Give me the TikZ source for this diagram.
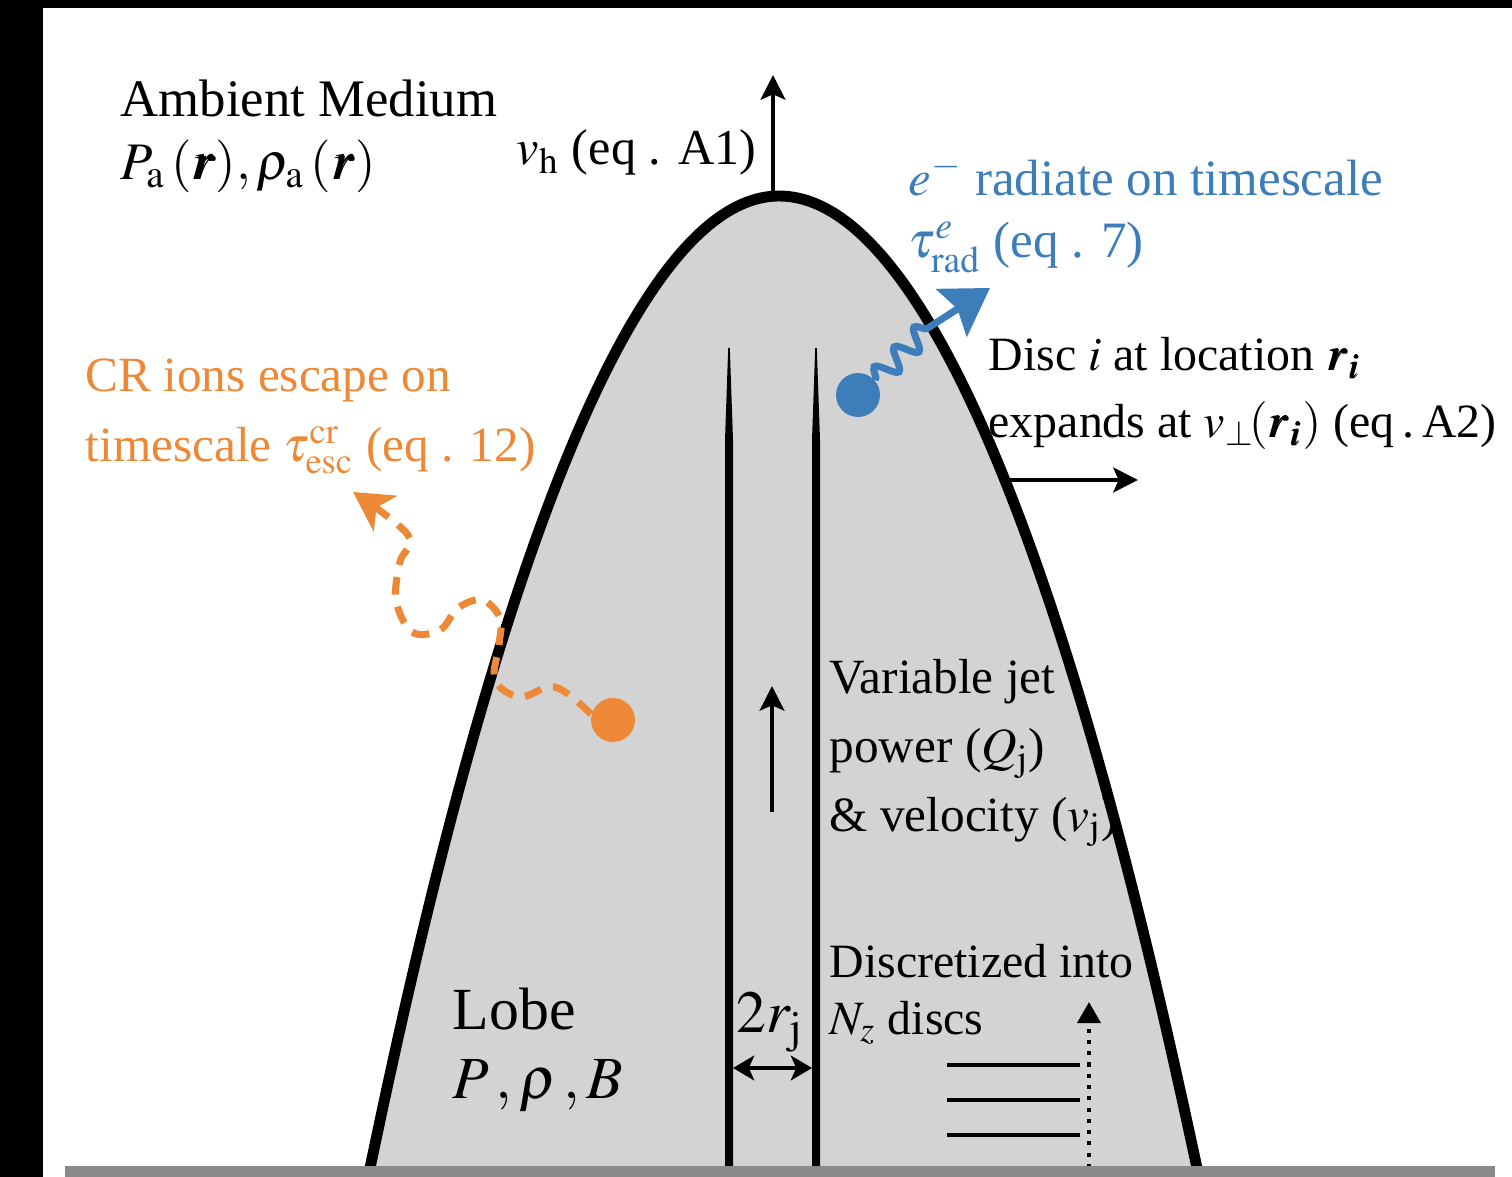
\documentclass[tikz,border=0pt]{standalone}
\usepackage{mathptmx}
\usepackage{bm}
\usepackage{fontspec}
\setmainfont{Liberation Serif}
\usetikzlibrary{positioning, arrows.meta, decorations.pathmorphing}
\definecolor{LobeGrey}{HTML}{D3D3D3}
\definecolor{FloorGrey}{HTML}{8A8A8A}
\definecolor{CROrange}{HTML}{EC8836}
\definecolor{ElecBlue}{HTML}{3C7DBA}

\begin{document}
\begin{tikzpicture}[
  x=0.01cm, y=-0.01cm,
  lbl/.style={inner sep=0pt, align=left, font=\fontsize{14}{19.5}\selectfont},
  lobeline/.style={line width=3.1pt, line join=round},
  vel/.style={-{Stealth[length=7pt, width=7pt, inset=1.5pt]}, line width=1.3pt},
  discline/.style={line width=1.4pt},
  dot/.style={circle, inner sep=0pt, minimum size=12.5pt},
  crpath/.style={CROrange, line width=2pt, dash pattern=on 5pt off 3.5pt, -{Stealth[length=11pt, width=12pt, inset=3pt]}},
  radpath/.style={ElecBlue, line width=2pt, -{Stealth[length=13pt, width=16pt, inset=2pt]}},
]
\useasboundingbox (0,0) rectangle (1512,1177);
\fill[black] (0,0) rectangle (43,1177);
\fill[black] (0,0) rectangle (1512,8);

% lobe
\coordinate (lobeL) at (370,1168);
\coordinate (apex) at (779,196);
\coordinate (lobeR) at (1197,1168);
\fill[LobeGrey] (lobeL) parabola bend (apex) (lobeR) -- cycle;
\draw[lobeline] (lobeL) parabola bend (apex) (lobeR);

% jet walls
\foreach \jx in {729,816}
  \fill ({\jx-0.8},348) -- ({\jx+0.8},348) -- ({\jx+4},440) -- ({\jx+4},1168) -- ({\jx-4},1168) -- ({\jx-4},440) -- cycle;

% velocities
\coordinate (hbase) at (773,194);
\coordinate (htip) at (773,75);
\draw[vel] (hbase) -- (htip);
\coordinate (sbase) at (1010,480);
\coordinate (stip) at (1138,480);
\draw[vel] (sbase) -- (stip);
\coordinate (jbase) at (772,812);
\coordinate (jtip) at (772,686);
\draw[vel, line width=1.1pt] (jbase) -- (jtip);
\coordinate (wl) at (733,1068);
\coordinate (wr) at (812,1068);
\draw[{Stealth[length=6pt, width=7pt, inset=1.5pt]}-{Stealth[length=6pt, width=7pt, inset=1.5pt]}, line width=1.3pt] (wl) -- (wr);

% discs
\foreach \dy in {1065,1100,1135}
  \draw[discline] (947,\dy) -- (1080,\dy);
\coordinate (dbase) at (1089,1168);
\coordinate (dtip) at (1089,1002);
\draw[line width=1.2pt, dotted, -{Triangle[length=6pt, width=6.5pt]}] (dbase) -- (dtip);

% particles
\node[dot, fill=CROrange] (crdot) at (613,720) {};
\node[dot, fill=ElecBlue] (edot) at (858,395) {};
\coordinate (crtip) at (353,492);
\draw[crpath] plot[smooth, tension=0.6] coordinates {(crdot.165) (555,687) (520,697) (495,680) (499,645) (500,618) (482,600) (458,608) (440,630) (412,632) (396,600) (400,562) (408,535) (crtip)};
\coordinate (ewave) at (928,328);
\coordinate (etip) at (990,288);
\draw[radpath] (edot.40) decorate[decoration={snake, amplitude=3pt, segment length=8pt}] {-- (ewave)} -- (etip);

% labels
\node[lbl, anchor=north west, font=\fontsize{15}{18}\selectfont] (ambient) at (120,79) {Ambient Medium\\ $P_{\mathrm{a}}\,(\bm{r}), \rho_{\mathrm{a}}\,(\bm{r})$};
\node[lbl, anchor=base east, font=\fontsize{14.3}{18}\selectfont] (vhlabel) at (757,165) {$v_{\mathrm{h}}$ (eq . A1)};
\node[lbl, anchor=north west, text=ElecBlue, font=\fontsize{14.5}{17.6}\selectfont] (radiate) at (908,154) {$e^{-}$ radiate on timescale\\ $\tau^{e}_{\mathrm{rad}}$ (eq . 7)};
\node[lbl, anchor=north west, font=\fontsize{13.6}{19}\selectfont] (disc) at (988,337) {Disc $i$ at location $\bm{r}_{\bm{i}}$\\ expands at $v_{\perp}\!(\bm{r}_{\bm{i}})$ (eq\,.\,A2)};
\node[lbl, anchor=north west, text=CROrange, font=\fontsize{14}{20}\selectfont] (escape) at (85,358) {CR ions escape on\\ timescale $\tau^{\mathrm{cr}}_{\mathrm{esc}}$ (eq . 12)};
\node[lbl, anchor=north west] (jet) at (829,659) {Variable jet\\ power ($Q_{\mathrm{j}}$)\\ \& velocity ($v_{\mathrm{j}}$)};
\node[lbl, anchor=north west, font=\fontsize{13.6}{16}\selectfont] (discretized) at (829,944) {Discretized into\\ $N_z$ discs};
\node[lbl, anchor=north west, font=\fontsize{17}{19.6}\selectfont] (lobe) at (452,987) {Lobe\\ $P\,,\rho\,,B$};
\node[lbl, anchor=base west, font=\fontsize{17}{20}\selectfont] (width) at (736,1033) {$2r_{\mathrm{j}}$};

% floor
\fill[FloorGrey] (65,1166) rectangle (1495,1177);
\end{tikzpicture}
\end{document}
